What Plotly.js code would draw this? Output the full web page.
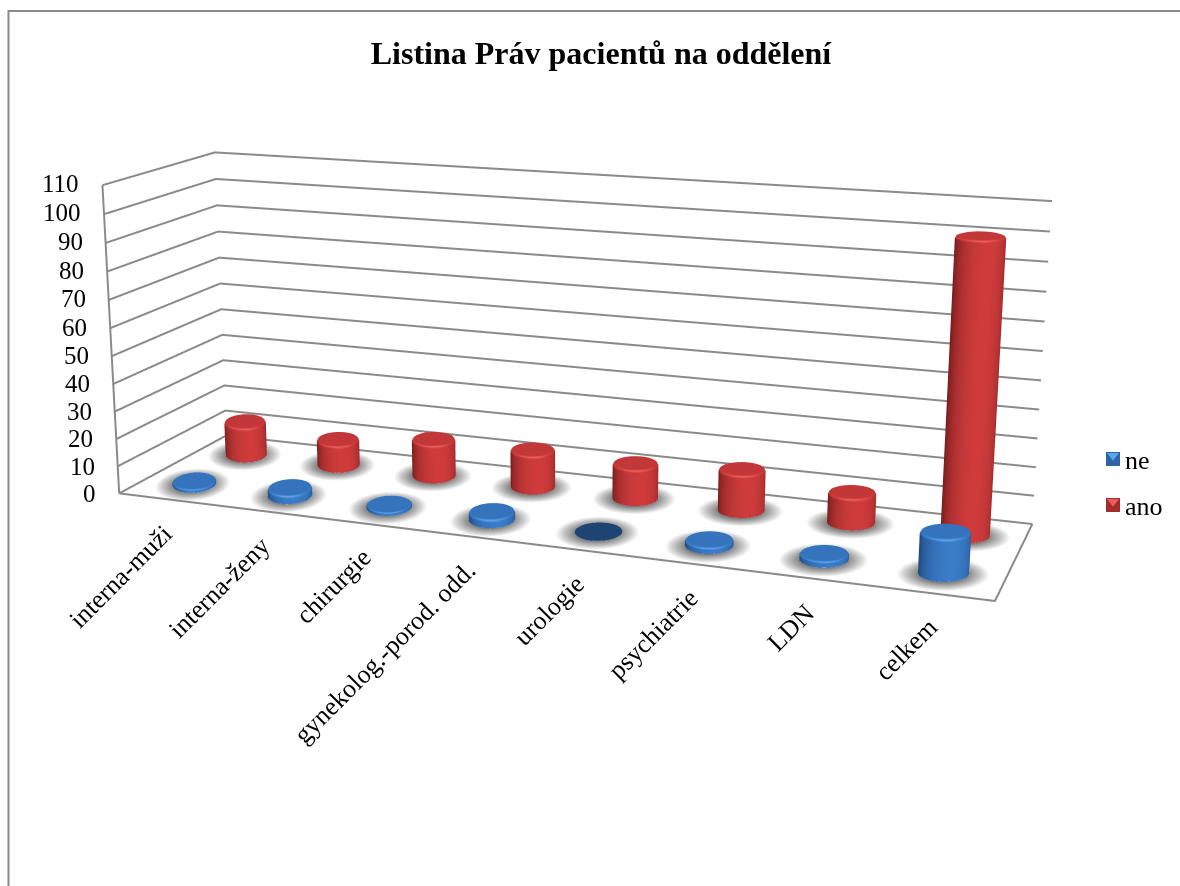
<!DOCTYPE html>
<html lang="cs"><head><meta charset="utf-8">
<script src="https://cdn.plot.ly/plotly-3.0.1.min.js"></script>
<style>html,body{margin:0;padding:0;width:1180px;height:886px;overflow:hidden;background:#fff}
#chart{position:absolute;left:-175px;top:-503px}</style></head>
<body><div id="chart"></div>
<script>
// Chart data
var categories = ['interna-muži','interna-ženy','chirurgie','gynekolog.-porod. odd.','urologie','psychiatrie','LDN','celkem'];
var ne  = [1, 3, 1, 3, 0, 2, 2, 14];
var ano = [13, 10, 14, 14, 13, 15, 11, 101];
var zTicks = [0,10,20,30,40,50,60,70,80,90,100,110];
var titleText = 'Listina Práv pacientů na oddělení';

// The long lens of this view needs a canvas larger than the window; helpers convert window pixels to paper units.
var W = 1400, H = 1776, OX = 175, OY = 503;
function px(x){ return (x + OX) / W; }
function py(y){ return 1 - (y + OY) / H; }

var SERIF = '"Liberation Serif","Times New Roman",serif';
var GRID = '#8a8a8a';
var REDS  = [[0,'#701a1a'],[0.5,'#ad3030'],[0.8,'#cf3b3b'],[1,'#ee6060']];
var BLUES = [[0,'#1d4270'],[0.5,'#2e67ab'],[0.8,'#3a7cc8'],[1,'#62a6ee']];
var XMAX = categories.length, YMAX = 2;

function lerp(a, b, t){ return a + (b - a) * t; }
// Floor vectors that keep a disc level on screen at floor position (cx, cy); a and b are its half-axes in pixels
function floorBasis(cx, cy, a, b){
  var u = cx / XMAX, v = cy / YMAX;
  var ax = lerp(109.4, 100.5, v), ay = lerp(13.5, 11, v);
  var bx = lerp(53, 18.5, u), by = lerp(-28.5, -38.5, u);
  var det = ax * by - ay * bx;
  return [[a * by / det, -a * ay / det], [b * bx / det, -b * ax / det]];
}

// A bevelled cylinder as a shaded surface, standing on the floor at (cx, cy)
function cylinder(cx, cy, value, scale){
  var a = cy < 1 ? lerp(24, 22.5, cx / XMAX) : lerp(23, 22, cx / XMAX);
  var disc = floorBasis(cx, cy, a, a * 0.38);
  var top = Math.max(value, 0.15), bev = Math.min(1.1, top * 0.35);
  var prof = [[0,top],[0.82,top],[0.96,top-bev*0.35],[1,top-bev],[1,0]];
  var X=[],Y=[],Z=[],C=[];
  prof.forEach(function(p, row){
    var xr=[],yr=[],zr=[],cr=[];
    for (var i=0;i<=64;i++){
      var t = -Math.PI + 2*Math.PI*i/64;
      var c = Math.cos(t)*p[0], s = Math.sin(t)*p[0];
      xr.push(cx + disc[0][0]*c + disc[1][0]*s);
      yr.push(cy + disc[0][1]*c + disc[1][1]*s);
      zr.push(p[1]);
      var d = t - (-Math.PI/2 + 0.26);
      var body = 0.12 + 0.68*Math.max(0, Math.cos(d));
      var front = Math.max(0, -Math.sin(t));
      var v = row < 2 ? 0.68 : (row === 2 ? 0.7 + 0.3*front*front : body);
      cr.push(value === 0 ? 0.03 : v);
    }
    X.push(xr);Y.push(yr);Z.push(zr);C.push(cr);
  });
  return {type:'surface',x:X,y:Y,z:Z,surfacecolor:C,cmin:0,cmax:1,colorscale:scale,showscale:false,
    hoverinfo:'skip',lighting:{ambient:1,diffuse:0,specular:0,fresnel:0,roughness:1},
    contours:{x:{show:false},y:{show:false},z:{show:false}}};
}
// Soft floor shadow: a disc that fades out towards its rim
function shadow(cx, cy){
  var halo = floorBasis(cx, cy, 41, 16);
  var X=[],Y=[],Z=[],C=[];
  for (var r=0;r<=14;r++){
    var xr=[],yr=[],zr=[],cr=[];
    for (var i=0;i<=48;i++){
      var t=2*Math.PI*i/48, c=Math.cos(t)*r/14, s=Math.sin(t)*r/14;
      xr.push(cx + halo[0][0]*c + halo[1][0]*s);
      yr.push(cy - 0.03 + halo[0][1]*c + halo[1][1]*s);
      zr.push(0.02);
      cr.push(r/14);
    }
    X.push(xr);Y.push(yr);Z.push(zr);C.push(cr);
  }
  return {type:'surface',x:X,y:Y,z:Z,surfacecolor:C,cmin:0,cmax:1,
    colorscale:[[0,'#5c5c5c'],[1,'#5c5c5c']],showscale:false,hoverinfo:'skip',
    opacityscale:[[0,0.85],[0.5,0.8],[0.8,0.34],[1,0]],
    lighting:{ambient:1,diffuse:0,specular:0,fresnel:0},
    contours:{x:{show:false},y:{show:false},z:{show:false}}};
}
function polyline(xs, ys, zs){
  return {type:'scatter3d',mode:'lines',x:xs,y:ys,z:zs,line:{color:GRID,width:4},hoverinfo:'skip',showlegend:false};
}

var traces = [];
// Wall grid at every tick, then the vertical axis and the floor's front and right edges
zTicks.forEach(function(v){ traces.push(polyline([0,0,XMAX],[0,YMAX,YMAX],[v,v,v])); });
traces.push(polyline([0,0],[0,0],[0,zTicks[zTicks.length-1]]));
traces.push(polyline([0,XMAX,XMAX],[0,0,YMAX],[0,0,0]));
categories.forEach(function(c,i){ traces.push(shadow(i+0.5,1.5)); traces.push(shadow(i+0.5,0.5)); });
categories.forEach(function(c,i){ traces.push(cylinder(i+0.5,1.5,ano[i],REDS)); });
categories.forEach(function(c,i){ traces.push(cylinder(i+0.5,0.5,ne[i],BLUES)); });

var sceneNotes = [];
zTicks.forEach(function(v){
  sceneNotes.push({x:0,y:0,z:v,text:String(v),showarrow:false,xanchor:'right',yanchor:'middle',xshift:-21,yshift:v/55,
    font:{family:SERIF,size:25,color:'#000'}});
});
categories.forEach(function(c,i){
  sceneNotes.push({x:i+0.5,y:0,z:0,text:c,showarrow:false,textangle:-45,xanchor:'right',yanchor:'top',xshift:14,yshift:-17,
    font:{family:SERIF,size:26,color:'#000'}});
});

// Bevelled legend swatch: dark square with a bright wedge on its upper edge
function swatch(x,y,s,dark,light){
  return [
    {type:'rect',xref:'paper',yref:'paper',x0:px(x),x1:px(x+s),y0:py(y),y1:py(y+s),fillcolor:dark,line:{width:0}},
    {type:'path',xref:'paper',yref:'paper',fillcolor:light,line:{width:0},
     path:'M '+px(x+1)+' '+py(y+1)+' L '+px(x+s-1)+' '+py(y+1)+' L '+px(x+s/2)+' '+py(y+s*0.62)+' Z'}
  ];
}
var shapes = [
  {type:'line',xref:'paper',yref:'paper',x0:px(8),x1:px(1180),y0:py(11),y1:py(11),line:{color:'#8a8a8a',width:2}},
  {type:'line',xref:'paper',yref:'paper',x0:px(8.5),x1:px(8.5),y0:py(10),y1:py(886),line:{color:'#8a8a8a',width:2}}
].concat(swatch(1106,452,14,'#2f64a4','#58a6ee'),swatch(1106,498,14,'#a32d2d','#ec5c5c'));

var layout = {
  width:W,height:H,margin:{l:0,r:0,t:0,b:0,pad:0},paper_bgcolor:'#fff',showlegend:false,
  title:{text:titleText,x:px(601),xref:'paper',xanchor:'center',y:py(53),yref:'paper',yanchor:'middle',
    font:{family:SERIF,size:32,color:'#000',weight:'bold'}},
  shapes:shapes,
  annotations:[
    {xref:'paper',yref:'paper',x:px(1123),y:py(460),text:'ne',showarrow:false,xanchor:'left',yanchor:'middle',font:{family:SERIF,size:26,color:'#000'}},
    {xref:'paper',yref:'paper',x:px(1123),y:py(506),text:'ano',showarrow:false,xanchor:'left',yanchor:'middle',font:{family:SERIF,size:26,color:'#000'}}
  ],
  scene:{
    domain:{x:[0,1],y:[0,1]},aspectmode:'manual',
    // Ranges carry a small margin so edge lines are not cut by the clip planes
    aspectratio:{x:2.0363*8.04/8,y:0.5194*2.04/2,z:0.7305*111/110},
    camera:{eye:{x:1.5977,y:-4.3959,z:1.1679},center:{x:0.0327,y:-0.3349,z:0.0135},up:{x:0.3863,y:-0.9959,z:1}},
    xaxis:{range:[-0.02,XMAX+0.02],visible:false},
    yaxis:{range:[-0.02,YMAX+0.02],visible:false},
    zaxis:{range:[-0.5,110.5],visible:false},
    annotations:sceneNotes
  }
};
Plotly.newPlot('chart',traces,layout,{displayModeBar:false});
</script></body></html>
